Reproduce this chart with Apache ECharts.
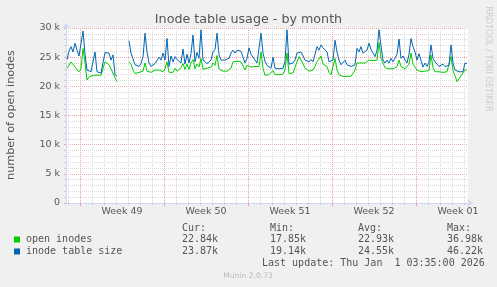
<!DOCTYPE html>
<html><head><meta charset="utf-8">
<script src="https://cdn.jsdelivr.net/npm/echarts@6/dist/echarts.min.js"></script>
<style>html,body{margin:0;padding:0;background:#F0F0F0;overflow:hidden}#c{width:497px;height:287px}</style>
</head><body><div id="c"></div>
<script>
const chartTitle = 'Inode table usage - by month';
const yAxisName = 'number of open inodes';
const seriesNames = ['open inodes', 'inode table size'];
const seriesColors = ['#00CC00', '#0066B3'];
const weekLabels = ['Week 49', 'Week 50', 'Week 51', 'Week 52', 'Week 01'];
const weekStartHours = [0, 168, 336, 504, 672];   // hours from Mon 1 Dec 00:00
const startHour = -26;   // first sample time (hours)
const stepHours = 4;     // sample spacing (hours)

const openInodes = [
23100,23600,24200,24000,23300,22900,22500,23000,26500,24000,
21100,21600,21800,21900,22100,21900,21900,21900,21900,24200,
24000,23700,23000,22800,21500,20800,null,null,null,null,
null,24200,23800,22800,22200,22400,22400,22400,22600,24000,
22600,22500,22400,22500,22800,22600,22800,22700,22500,23000,
24200,22400,22200,22400,23100,22600,22800,23200,23900,22900,
23800,22900,24000,24600,23000,23800,23300,24800,22900,23100,
23100,23200,23300,24000,23600,25300,23000,22800,22600,22600,
22600,22800,23100,24200,24000,24300,24200,24200,24000,22800,
23600,23900,23300,23500,23400,23300,23400,25900,23100,21900,
22000,22000,22000,22700,22000,22000,22000,22000,22100,22800,
25700,22200,22300,22300,22400,24200,25100,24800,23900,23100,
22800,22600,22600,22800,23400,24200,24500,25200,23800,24000,
23400,22400,22000,22200,24800,22800,22000,21700,21700,21700,
21700,21700,21700,21700,22800,24000,24200,24000,24000,24000,
24100,24500,24300,24400,24200,24500,27500,24800,24000,23200,
23100,23000,22900,23000,23100,23400,24500,23400,23200,23000,
23200,23800,25700,23800,23300,22800,22800,22500,22300,22600,
22400,22700,25400,23200,22500,22600,22500,22500,22400,22500,
22500,22600,25100,22700,21800,20800,21300,21800,22000,22800,
22840
];
const tableSize = [
24600,26000,26800,25900,27400,26200,25200,25400,29500,25500,
22800,22500,22500,22400,25900,22500,22400,22300,22400,25800,
25600,25700,24500,25400,22000,21700,null,null,null,null,
null,27800,25700,25400,23700,23400,23400,23900,25000,29100,
25900,24000,23400,23400,23900,24200,25000,24500,25700,24500,
28200,23400,25200,24200,25100,24600,24300,24000,26400,23800,
25500,24000,25600,28800,24200,25800,24800,29700,24500,24200,
23900,24000,24500,25900,26300,29100,25400,24500,24500,24500,
24500,24800,25700,26200,25700,26200,25900,26000,25700,24000,
24800,26600,25500,25200,24500,24000,24200,29100,25700,24300,
23600,23300,23100,25000,23100,23000,23000,23000,23100,24300,
29700,23800,24000,24000,24500,25700,25400,25900,25200,24500,
24200,24200,24600,24200,24500,26800,26200,27100,26600,26500,
25900,24200,24000,24500,27900,25900,24500,23700,23400,24500,
23700,23400,23400,23400,23700,26500,25900,26800,25700,25900,
26200,27400,26300,25700,25100,26200,29700,27000,24500,24000,
24500,24000,24800,24200,24800,25500,28100,24800,25200,24500,
24000,25500,28200,26800,25900,24500,25600,25800,23300,24000,
23400,24200,27100,24800,24200,24000,23400,23200,23800,23400,
23200,23600,27100,24000,22800,22500,22500,22700,22500,24000,
23870
];

const statHeaders = ['Cur:', 'Min:', 'Avg:', 'Max:'];
const openStats = ['22.84k', '17.85k', '22.93k', '36.98k'];
const sizeStats = ['23.87k', '19.14k', '24.55k', '46.22k'];
const lastUpdate = 'Last update: Thu Jan  1 03:35:00 2026';
const footerText = 'Munin 2.0.73';
const sideText = 'RRDTOOL / TOBI OETIKER';

const weekMidHours = weekStartHours.map(h => h + 84);
const dayHours = [];
for (let h = -24; h <= 776; h += 24) dayHours.push(h);

function toPairs(arr) { return arr.map((v, i) => [startHour + i * stepHours, v]); }

const FONT = 'DejaVu Sans';
const MONO = 'DejaVu Sans Mono';
const TXT = '#555555';
const MGRID = '#eaa5a5';
const GRID = '#dadada';
const AXIS = '#CFD6F8';

const statCols = [182, 270, 358, 447];
const rowsY = [239.5, 251.5];
const graphics = [
  { type: 'text', left: 'center', top: 13, style: { text: chartTitle, font: '12.7px ' + FONT, fill: TXT } },
  { type: 'text', x: 11, y: 115, rotation: Math.PI / 2, style: { text: yAxisName, font: '11.2px ' + FONT, fill: TXT, align: 'center', verticalAlign: 'middle' } },
  { type: 'text', x: 488, y: 59, rotation: -Math.PI / 2, style: { text: sideText, font: '8.2px ' + FONT, fill: '#cccccc', align: 'center', verticalAlign: 'middle' } },
  { type: 'text', x: 248, y: 276.5, style: { text: footerText, font: '7.6px ' + FONT, fill: '#bbbbbb', align: 'center', verticalAlign: 'middle' } },
  { type: 'text', x: 262, y: 263.5, style: { text: lastUpdate, font: '10px ' + MONO, fill: TXT, verticalAlign: 'middle' } }
];
statHeaders.forEach((h, i) => graphics.push({ type: 'text', x: statCols[i], y: 228, style: { text: h, font: '10px ' + MONO, fill: TXT, verticalAlign: 'middle' } }));
[openStats, sizeStats].forEach((row, r) => {
  graphics.push({ type: 'rect', shape: { x: 14, y: rowsY[r] - 3, width: 6, height: 6 }, style: { fill: seriesColors[r] } });
  graphics.push({ type: 'text', x: 26, y: rowsY[r], style: { text: seriesNames[r], font: '10px ' + MONO, fill: TXT, verticalAlign: 'middle' } });
  row.forEach((v, i) => graphics.push({ type: 'text', x: statCols[i], y: rowsY[r], style: { text: v, font: '10px ' + MONO, fill: TXT, verticalAlign: 'middle' } }));
});

const chart = echarts.init(document.getElementById('c'), null, { renderer: 'canvas' });
chart.setOption({
  animation: false,
  backgroundColor: '#F0F0F0',
  grid: { left: 66, right: 29, top: 28, bottom: 84, show: true, backgroundColor: '#FFFFFF', borderWidth: 0 },
  xAxis: [
    {
      type: 'value', min: -28, max: 776, position: 'bottom',
      axisLine: { show: true, onZero: false, lineStyle: { color: AXIS, width: 1 }, symbol: ['none', 'arrow'], symbolSize: [6, 6], symbolOffset: [0, 5] },
      axisTick: { show: true, customValues: dayHours, length: 2, lineStyle: { color: '#cccccc' } },
      axisLabel: { customValues: weekMidHours, formatter: v => weekLabels[weekMidHours.indexOf(v)], fontFamily: FONT, fontSize: 9.5, color: TXT, margin: 4 },
      splitLine: { show: true, lineStyle: { color: GRID, type: [1, 1], width: 1 } }
    },
    {
      type: 'value', min: -28, max: 776, position: 'bottom', offset: 0,
      axisLine: { show: false, onZero: false },
      axisTick: { show: true, customValues: weekStartHours, length: 3, lineStyle: { color: MGRID } },
      axisLabel: { show: false },
      splitLine: { show: true, lineStyle: { color: MGRID, type: [1, 1], width: 1 } }
    }
  ],
  yAxis: {
    type: 'value', min: 0, max: 30000, interval: 5000,
    axisLine: { show: true, onZero: false, lineStyle: { color: AXIS, width: 1 }, symbol: ['none', 'arrow'], symbolSize: [6, 6], symbolOffset: [0, 5] },
    axisTick: { show: true, length: 2, lineStyle: { color: MGRID } },
    minorTick: { show: true, splitNumber: 5, length: 2, lineStyle: { color: '#cccccc' } },
    minorSplitLine: { show: true, lineStyle: { color: GRID, type: [1, 1], width: 1 } },
    splitLine: { show: true, lineStyle: { color: MGRID, type: [1, 1], width: 1 } },
    axisLabel: { formatter: v => (v === 0 ? '0' : (v / 1000) + ' k'), fontFamily: FONT, fontSize: 9.5, color: TXT, margin: 6 }
  },
  series: [
    { name: seriesNames[0], type: 'line', data: toPairs(openInodes), showSymbol: false, connectNulls: false, z: 5,
      lineStyle: { color: seriesColors[0], width: 1 }, itemStyle: { color: seriesColors[0] } },
    { name: seriesNames[1], type: 'line', data: toPairs(tableSize), showSymbol: false, connectNulls: false, z: 6,
      lineStyle: { color: seriesColors[1], width: 1 }, itemStyle: { color: seriesColors[1] } }
  ],
  graphic: graphics
});
</script></body></html>
